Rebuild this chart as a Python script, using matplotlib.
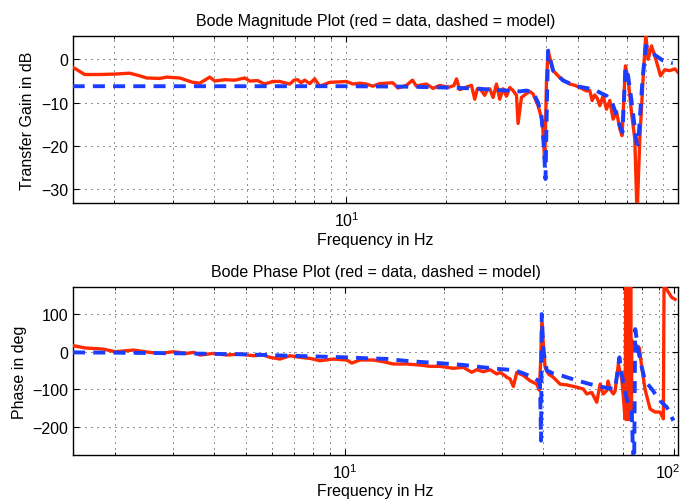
import matplotlib
matplotlib.use("Agg")
import matplotlib.pyplot as plt
import matplotlib.transforms as mtransforms
from matplotlib.ticker import LogLocator, NullFormatter, FixedLocator

plt.rcParams['font.family'] = ['Liberation Sans', 'DejaVu Sans']
plt.rcParams['font.size'] = 11.5

# ---------------- data ----------------
# Magnitude, measured (red)
mag_data_f = [1.496, 1.627, 1.805, 2.003, 2.223, 2.382, 2.501, 2.737, 2.873, 3.146,
              3.442, 3.614, 3.873, 4.010, 4.30, 4.606, 4.938, 5.112, 5.40, 5.673,
              6.0, 6.295, 6.748, 6.95, 7.133, 7.3, 7.486, 7.749, 8.025, 8.309,
              8.906, 9.546, 10.0, 10.47, 10.97, 11.49, 12.00, 12.60, 13.2, 13.79,
              14.30, 15.16, 15.81, 16.26, 16.8, 17.42, 18.24, 19.11, 19.8, 20.48,
              21.1, 21.46, 21.95, 23.00, 23.81, 24.36, 24.8, 25.22, 26.11, 26.6,
              27.03, 27.66, 28.32, 28.97, 29.65, 30.35, 31.06, 31.78, 32.54, 32.90,
              33.68, 34.87, 35.68, 36.51, 37.81, 38.97, 39.60, 40.07, 40.51, 41.95,
              43.94, 45.5, 47.10, 48.8, 50.48, 52.88, 54.11, 55.0, 56.0, 57.0,
              58.0, 59.35, 60.76, 62.17, 63.62, 65.14, 66.64, 67.69, 69.31, 70.59,
              72.27, 73.95, 75.13, 76.56, 78.33, 79.81, 81.10, 83.04, 84.96, 86.92,
              88.39, 91.05, 94.28, 97.60, 100.4]
mag_data_db = [-1.8, -3.5, -3.5, -3.4, -3.2, -3.8, -4.3, -4.4, -4.1, -4.3,
               -5.3, -5.5, -4.1, -5.0, -4.7, -4.8, -4.3, -5.0, -4.9, -5.7,
               -5.1, -5.1, -5.7, -4.8, -4.7, -5.4, -4.8, -5.6, -4.5, -6.2,
               -5.3, -5.2, -5.1, -5.7, -5.5, -5.7, -6.2, -5.6, -5.5, -5.4,
               -6.6, -6.0, -4.8, -6.2, -5.9, -5.7, -6.7, -6.0, -6.3, -6.4,
               -6.0, -4.5, -7.0, -6.4, -6.0, -9.2, -6.8, -6.7, -8.3, -6.9,
               -6.8, -8.8, -5.7, -9.2, -6.8, -8.5, -6.5, -7.2, -8.3, -14.8,
               -8.8, -7.9, -7.4, -8.0, -10.7, -14.5, -23.8, -5.0, 2.0, -2.6,
               -4.2, -5.0, -5.7, -6.0, -6.5, -7.3, -7.2, -9.5, -8.2, -9.0,
               -10.7, -8.4, -11.5, -9.5, -13.8, -12.0, -16.0, -17.6, -1.5, -4.5,
               -12.2, -18.4, -36.0, -18.4, -4.5, 5.8, 0.0, 3.1, 0.8, -1.8,
               -3.8, -2.4, -2.6, -2.2, -3.2]

# Magnitude, model (blue dashed)
mag_model_f = [1.496, 5.0, 10.0, 15.0, 20.0, 24.0, 29.0, 33.3, 34.87, 36.51,
               37.81, 38.7, 39.33, 39.80, 40.24, 40.51, 41.95, 44.96, 49.33, 55.37,
               60.76, 63.62, 66.64, 67.91, 69.31, 70.59, 72.27, 74.82, 75.66, 76.56,
               78.01, 79.81, 82.06, 84.96, 90.0, 95.39, 96.25]
mag_model_db = [-6.2, -6.2, -6.2, -6.3, -6.5, -6.7, -7.1, -7.4, -7.2, -7.6,
                -10.0, -13.0, -20.0, -27.6, -8.0, 2.0, -2.6, -4.9, -6.2, -6.9,
                -8.4, -10.6, -15.3, -16.8, -1.9, -3.8, -9.5, -19.2, -19.6, -13.8,
                -4.7, 3.1, 2.3, 1.0, -0.3, -0.8, -0.8]

# Phase, measured (red)
ph_data_f = [1.494, 1.621, 1.842, 2.000, 2.273, 2.554, 2.740, 3.007, 3.303, 3.459,
             3.626, 3.978, 4.369, 4.796, 5.264, 5.646, 5.916, 6.345, 6.805, 7.299,
             7.828, 8.395, 9.213, 10.12, 10.48, 11.10, 12.19, 13.07, 14.02, 15.40,
             16.90, 18.13, 19.45, 21.34, 22.89, 24.27, 25.13, 26.33, 27.59, 28.91,
             29.59, 30.64, 31.01, 31.73, 32.48, 33.26, 34.83, 36.50, 38.25, 38.96,
             39.34, 39.62, 40.06, 40.55, 41.49, 42.97, 45.03, 47.21, 50.61, 53.00,
             54.28, 56.21, 58.21, 59.58, 60.97, 62.43, 63.02, 63.89, 65.38, 66.18,
             67.71, 69.34, 70.13, 70.97, 71.37, 71.76, 72.17, 72.57, 72.98, 73.39,
             73.80, 74.22, 74.37, 77.02, 78.44, 79.76, 81.64, 84.57, 87.53, 90.66,
             92.78, 93.24, 94.2, 98.40, 100.7]
ph_data_deg = [16, 10, 7, 0, 4.4, -1.8, -4.4, 0, -4.4, -1.8,
               -8.8, -4.4, -8.8, -6.2, -10.6, -8.8, -15, -19.4, -10.6, -15,
               -17.7, -23.9, -19.4, -22, -30, -22, -22, -26.5, -32.6, -32.6,
               -35.3, -38.8, -38.8, -44, -41.4, -54.6, -47.7, -53, -47.7, -59,
               -55, -63.6, -68, -72, -92, -55, -63, -77, -86, -102,
               -19, 75, 20, -41, -59, -68, -86, -88, -94, -99,
               -112, -108, -134, -86, -112, -103, -78, -100, -112, -105,
               -33, -72, -120, -178, 185, -180, 185, -180, 185, -180,
               185, -178, 29, 16, 10, -41, -100, -152, -160, -160,
               -178, 190, 170, 144, 139]

# Phase, model (blue dashed)
ph_model_f = [1.49, 2.0, 3.0, 5.0, 7.0, 10.12, 11.75, 13.39, 15.22, 17.51,
              19.86, 22.84, 26.04, 29.59, 32.86, 37.35, 38.68, 39.14, 39.42, 39.62,
              40.06, 41.03, 42.97, 45.03, 48.88, 55.53, 62.43, 66.18, 68.21, 70.13,
              71.81, 74.37, 74.90, 75.6, 76.2, 77.89, 79.76, 81.64, 85.54, 90.66,
              95.01, 99.52]
ph_model_deg = [-1.8, -2.5, -4, -7, -11, -15, -17.5, -19, -24, -28,
                -31, -35, -41, -46, -49, -68, -77, -86, -236, 100,
                3, -50, -58, -62, -72, -86, -96, -99, -15, -86,
                -125, -156, -250, -320, 60, 3, -41, -77, -99, -130,
                -147, -183]

mag_yticks = [-30, -20, -10, 0]
ph_yticks = [-200, -100, 0, 100]

RED = '#ff2a00'
BLUE = '#1a3dff'
FS = 11.5

# ---------------- figure ----------------
fig = plt.figure(figsize=(6.83, 5.02), dpi=100)
ax1 = fig.add_axes([0.1069, 0.5930, 0.8862, 0.3339])
ax2 = fig.add_axes([0.1069, 0.0916, 0.8862, 0.3353])

dash = (0, (3.1, 2.1))

ax1.plot(mag_data_f, mag_data_db, color=RED, lw=2.4, solid_joinstyle='round', zorder=3)
ax1.plot(mag_model_f, mag_model_db, color=BLUE, lw=2.8, linestyle=dash, zorder=4)
ax2.plot(ph_data_f, ph_data_deg, color=RED, lw=2.4, solid_joinstyle='round', zorder=3)
ax2.plot(ph_model_f, ph_model_deg, color=BLUE, lw=2.8, linestyle=dash, zorder=4)

for ax, xlim, ylim, yt, xt in [(ax1, (1.5, 100), (-33.2, 5.45), mag_yticks, [10]),
                               (ax2, (1.49, 103), (-274, 172.5), ph_yticks, [10, 100])]:
    ax.set_xscale('log')
    ax.set_xlim(*xlim)
    ax.set_ylim(*ylim)
    ax.set_yticks(yt)
    ax.xaxis.set_major_locator(FixedLocator(xt))
    ax.xaxis.set_minor_locator(LogLocator(base=10, subs=range(2, 10), numticks=20))
    ax.xaxis.set_minor_formatter(NullFormatter())
    ax.tick_params(which='both', direction='in', top=True, right=True, labelsize=FS)
    ax.tick_params(which='major', length=4, width=0.8)
    ax.tick_params(which='minor', length=2.5, width=0.6)
    ax.tick_params(axis='x', which='major', pad=5)
    ax.grid(True, which='major', axis='both', color='black', lw=0.6, linestyle=(0, (1.2, 6)))
    ax.grid(True, which='minor', axis='x', color='black', lw=0.6, linestyle=(0, (1.2, 6)))
    for s in ax.spines.values():
        s.set_linewidth(1.0)
    ax.set_xlabel('Frequency in Hz', fontsize=FS, labelpad=2)

ax1.set_ylabel('Transfer Gain in dB', fontsize=FS)
ax2.set_ylabel('Phase in deg', fontsize=FS)
ax1.set_title('Bode Magnitude Plot (red = data, dashed = model)', fontsize=FS, pad=8)
ax2.set_title('Bode Phase Plot (red = data, dashed = model)', fontsize=FS, pad=8)

# keep the 10^2 label inside the figure
fig.canvas.draw()
lbls = ax2.get_xticklabels()
if len(lbls) > 1:
    lbls[-1].set_transform(lbls[-1].get_transform() +
                           mtransforms.ScaledTranslation(-6 / 100, 0, fig.dpi_scale_trans))

fig.savefig('out.png', dpi=100)
